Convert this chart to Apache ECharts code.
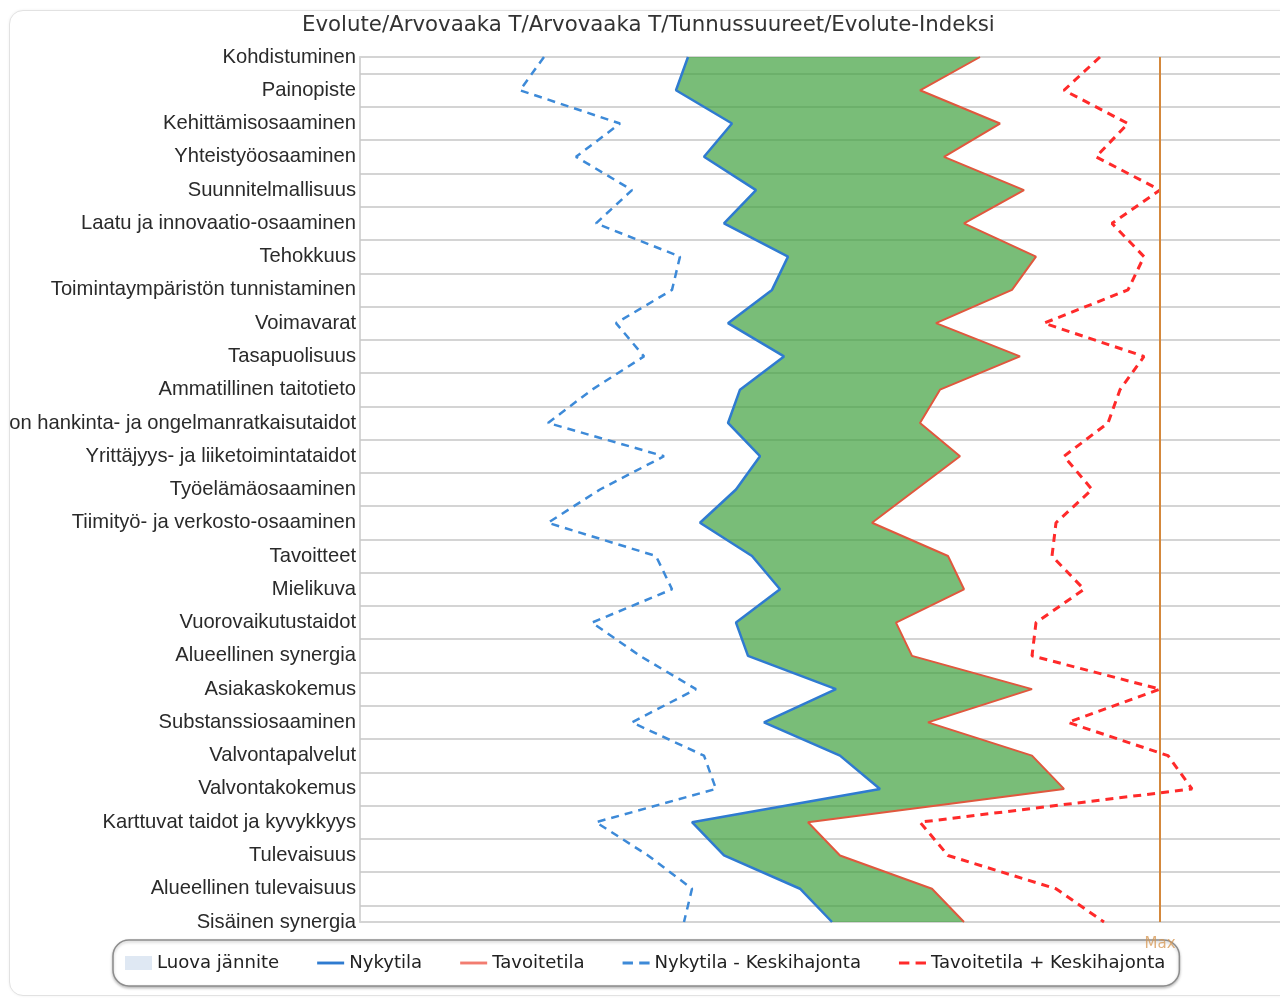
<!DOCTYPE html>
<html>
<head>
<meta charset="utf-8">
<title>Evolute-Indeksi</title>
<script src="https://cdn.jsdelivr.net/npm/echarts@6/dist/echarts.min.js"></script>
<style>
  html, body { margin: 0; padding: 0; background: #ffffff; }
  #card {
    position: absolute; left: 9px; top: 10px; width: 1300px; height: 984px;
    border: 1px solid #e2e2e2; border-radius: 14px; overflow: hidden; background: #ffffff;
    box-shadow: 0 0 3px rgba(0,0,0,0.06);
  }
  #chart { position: absolute; left: -10px; top: -11px; width: 1280px; height: 998px; }
</style>
</head>
<body>
<div id="card"><div id="chart"></div></div>
<script>
// Competence areas, listed top to bottom
const categories = [
  'Kohdistuminen', 'Painopiste', 'Kehittämisosaaminen', 'Yhteistyöosaaminen',
  'Suunnitelmallisuus', 'Laatu ja innovaatio-osaaminen', 'Tehokkuus',
  'Toimintaympäristön tunnistaminen', 'Voimavarat', 'Tasapuolisuus',
  'Ammatillinen taitotieto', 'Tiedon hankinta- ja ongelmanratkaisutaidot',
  'Yrittäjyys- ja liiketoimintataidot', 'Työelämäosaaminen',
  'Tiimityö- ja verkosto-osaaminen', 'Tavoitteet', 'Mielikuva',
  'Vuorovaikutustaidot', 'Alueellinen synergia', 'Asiakaskokemus',
  'Substanssiosaaminen', 'Valvontapalvelut', 'Valvontakokemus',
  'Karttuvat taidot ja kyvykkyys', 'Tulevaisuus', 'Alueellinen tulevaisuus',
  'Sisäinen synergia'
];

// Current state
const nykytila = [41, 39.5, 46.5, 43, 49.5, 45.5, 53.5, 51.5, 46, 53, 47.5, 46, 50, 47,
  42.5, 49, 52.5, 47, 48.5, 59.5, 50.5, 60, 65, 41.5, 45.5, 55, 59];

// Target state
const tavoitetila = [77.5, 70, 80, 73, 83, 75.5, 84.5, 81.5, 72, 82.5, 72.5, 70, 75, 69.5,
  64, 73.5, 75.5, 67, 69, 84, 71, 84, 88, 56, 60, 71.5, 75.5];

// Current state minus standard deviation
const nykytilaMinusSd = [23, 20, 32.5, 27, 34, 29.5, 40, 39, 32, 35.5, 29, 23.5, 38, 30,
  23.5, 37, 39, 29, 35, 42, 34, 43, 44.5, 29.5, 36, 41.5, 40.5];

// Target state plus standard deviation
const tavoitetilaPlusSd = [92.5, 88, 96, 92, 100, 94, 98, 96, 85.5, 98, 95, 93.5, 88, 91.5,
  87, 86.5, 90.5, 84.5, 84, 100, 88.5, 101, 104, 70, 73.5, 87, 93];

const maxValue = 100;
const axisMax = 115;

// Width of the creative tension band (target minus current)
const jannite = tavoitetila.map((v, i) => v - nykytila[i]);

// Legend glyphs: a solid stroke and a two-dash stroke
const solidIcon = 'path://M0,0h28v3h-28z';
const dashIcon = 'path://M0,0h10v3h-10z M16,0h10v3h-10z';

const chart = echarts.init(document.getElementById('chart'), null, { renderer: 'canvas' });

const gridGray = '#d4d4d4';

chart.setOption({
  animation: false,
  backgroundColor: 'transparent',
  title: {
    text: 'Evolute/Arvovaaka T/Arvovaaka T/Tunnussuureet/Evolute-Indeksi',
    left: 297,
    top: 10,
    textStyle: { fontFamily: 'DejaVu Sans', fontSize: 21.3, fontWeight: 'normal', color: '#333333' }
  },
  legend: {
    data: [
      { name: 'Luova jännite', icon: 'rect', itemStyle: { color: '#dfe8f3' } },
      { name: 'Nykytila', icon: solidIcon, itemStyle: { color: '#2f7bd0' } },
      { name: 'Tavoitetila', icon: solidIcon, itemStyle: { color: '#f27c70' } },
      { name: 'Nykytila - Keskihajonta', icon: dashIcon, itemStyle: { color: '#3d8ad8' } },
      { name: 'Tavoitetila + Keskihajonta', icon: dashIcon, itemStyle: { color: '#ff2a2a' } }
    ],
    left: 113,
    top: 940,
    itemWidth: 27,
    itemHeight: 14,
    itemGap: 38,
    padding: [14, 14, 14, 12],
    borderColor: '#8c8c8c',
    borderWidth: 1.5,
    borderRadius: 16,
    backgroundColor: '#ffffff',
    shadowColor: 'rgba(0,0,0,0.25)',
    shadowBlur: 3,
    shadowOffsetY: 1.5,
    textStyle: { fontFamily: 'DejaVu Sans', fontSize: 18.1, color: '#222222' }
  },
  grid: { left: 360, right: 0, top: 57, bottom: 76, outerBoundsMode: 'none', containLabel: false },
  xAxis: [
    {
      type: 'value', min: 0, max: axisMax, position: 'bottom',
      axisLine: { show: true, onZero: false, lineStyle: { color: gridGray, width: 2 } },
      axisTick: { show: false }, axisLabel: { show: false }, splitLine: { show: false }
    },
    {
      type: 'value', min: 0, max: axisMax, position: 'top',
      axisLine: { show: true, onZero: false, lineStyle: { color: gridGray, width: 2 } },
      axisTick: { show: false }, axisLabel: { show: false }, splitLine: { show: false }
    }
  ],
  yAxis: [
    {
      type: 'category', data: categories, inverse: true, boundaryGap: false,
      axisLine: { show: true, lineStyle: { color: '#c8c8c8', width: 1.5 } },
      axisTick: { show: false },
      axisLabel: { interval: 0, margin: 4, fontFamily: 'Liberation Sans', fontSize: 20.2, color: '#2a2a2a' },
      splitLine: { show: false }
    },
    {
      // band separators halfway between the categories
      type: 'value', min: -0.5, max: categories.length - 1.5,
      minInterval: 1, maxInterval: 1, splitNumber: categories.length - 1,
      inverse: true, position: 'right',
      axisLine: { show: false }, axisTick: { show: false }, axisLabel: { show: false },
      splitLine: { show: true, lineStyle: { color: gridGray, width: 2 } }
    }
  ],
  series: [
    {
      name: 'pohja', type: 'line', data: nykytila, stack: 'jannite',
      symbol: 'none', silent: true, lineStyle: { opacity: 0 }, z: 1
    },
    {
      name: 'Luova jännite', type: 'line', data: jannite, stack: 'jannite',
      symbol: 'none', silent: true, lineStyle: { opacity: 0 },
      itemStyle: { color: '#dfe8f3' },
      areaStyle: { color: 'rgba(64,161,62,0.7)', opacity: 1 }, z: 1
    },
    {
      name: 'Nykytila', type: 'line', data: nykytila, symbol: 'none',
      itemStyle: { color: '#2f7bd0' },
      lineStyle: { color: '#2f7bd0', width: 2.5 }, z: 3,
      markLine: {
        symbol: 'none', silent: true,
        lineStyle: { color: '#d4883c', width: 2, type: 'solid' },
        label: { formatter: 'Max', position: 'end', distance: 15, color: 'rgba(214,150,80,0.75)', fontFamily: 'DejaVu Sans', fontSize: 15 },
        data: [{ xAxis: maxValue }]
      }
    },
    {
      name: 'Tavoitetila', type: 'line', data: tavoitetila, symbol: 'none',
      itemStyle: { color: '#e0583e' },
      lineStyle: { color: '#e0583e', width: 2 }, z: 3
    },
    {
      name: 'Nykytila - Keskihajonta', type: 'line', data: nykytilaMinusSd, symbol: 'none',
      itemStyle: { color: '#3d8ad8' },
      lineStyle: { color: '#3d8ad8', width: 2.5, type: [8, 6] }, z: 3
    },
    {
      name: 'Tavoitetila + Keskihajonta', type: 'line', data: tavoitetilaPlusSd, symbol: 'none',
      itemStyle: { color: '#ff2a2a' },
      lineStyle: { color: '#ff2a2a', width: 3, type: [8, 6] }, z: 3
    }
  ]
});
</script>
</body>
</html>
